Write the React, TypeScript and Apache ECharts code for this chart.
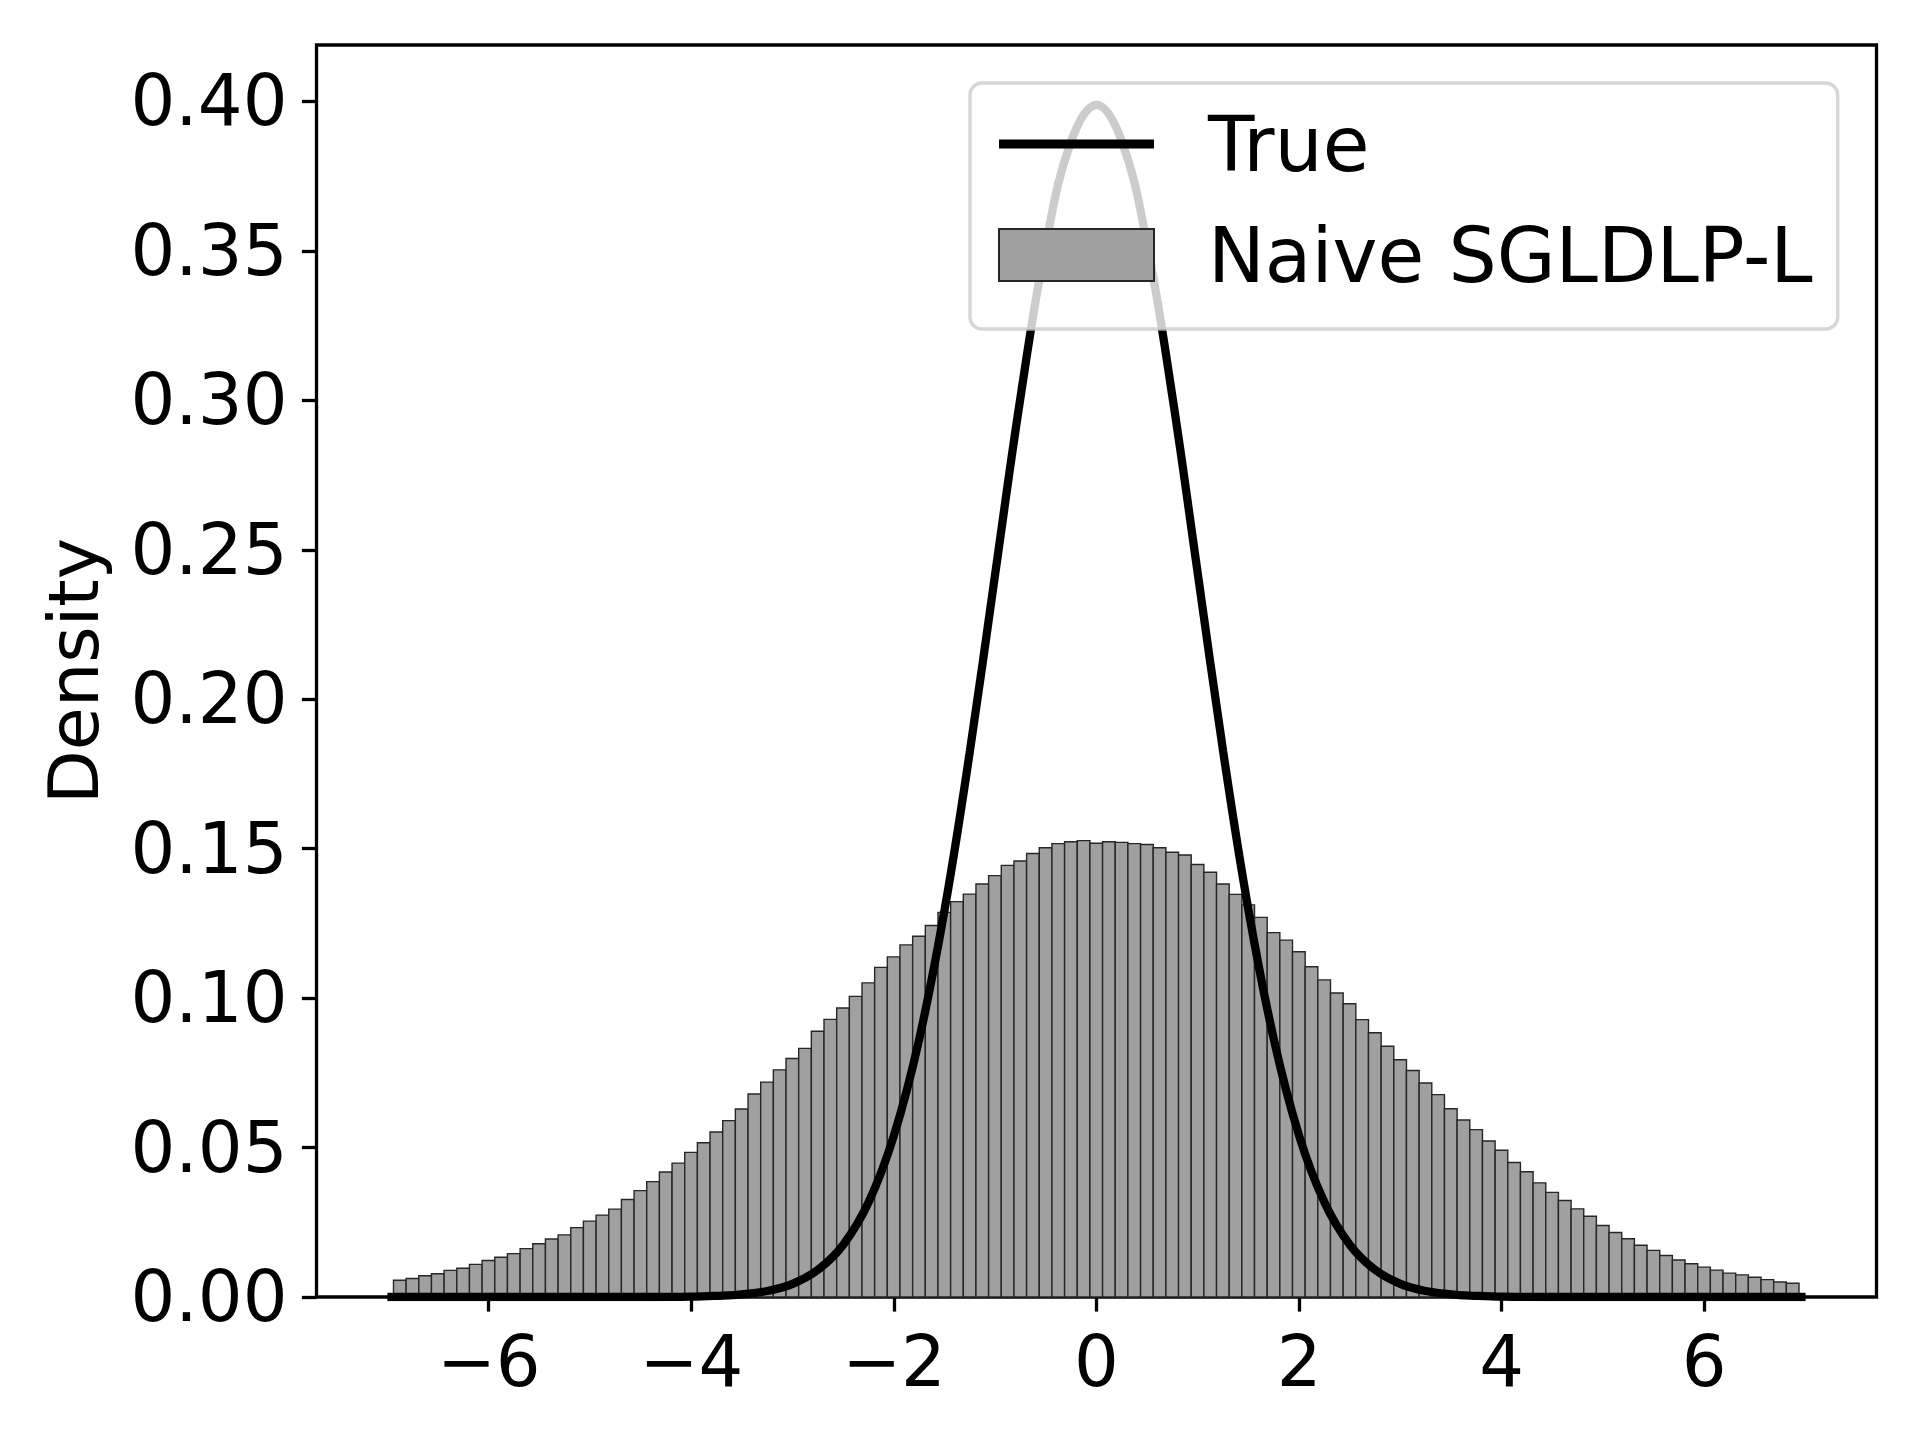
import React, { useEffect, useRef } from "react";
import * as echarts from "echarts";

// Histogram ("Naive SGLDLP-L"): 111 bins of width 0.125 starting at -6.94
const binStart = -6.94;
const binWidth = 0.125;
const histValues = [
  0.0056, 0.0062, 0.0071, 0.0078, 0.0089, 0.0096, 0.0109, 0.0122, 0.0133, 0.0145,
  0.0162, 0.0178, 0.0194, 0.0208, 0.0232, 0.0254, 0.0274, 0.0294, 0.0326, 0.0356,
  0.0386, 0.0418, 0.0448, 0.0484, 0.0516, 0.0552, 0.0590, 0.0629, 0.0679, 0.0719,
  0.0760, 0.0798, 0.0832, 0.0889, 0.0929, 0.0967, 0.1006, 0.1051, 0.1103, 0.1138,
  0.1178, 0.1207, 0.1243, 0.1287, 0.1323, 0.1348, 0.1382, 0.1410, 0.1444, 0.1459,
  0.1484, 0.1503, 0.1517, 0.1523, 0.1527, 0.1518, 0.1523, 0.1521, 0.1517, 0.1514,
  0.1503, 0.1488, 0.1479, 0.1447, 0.1421, 0.1382, 0.1347, 0.1312, 0.1270, 0.1219,
  0.1194, 0.1155, 0.1105, 0.1061, 0.1017, 0.0981, 0.0928, 0.0884, 0.0839, 0.0794,
  0.0758, 0.0716, 0.0677, 0.0630, 0.0592, 0.0560, 0.0522, 0.0491, 0.0450, 0.0419,
  0.0382, 0.0350, 0.0323, 0.0295, 0.0270, 0.0239, 0.0216, 0.0195, 0.0173, 0.0156,
  0.0139, 0.0124, 0.0111, 0.0100, 0.0090, 0.0080, 0.0074, 0.0066, 0.0058, 0.0050,
  0.0046,
];

// "True" density curve
const curveX = [
  -7, -6, -5, -4.5, -4, -3.75, -3.5, -3.25, -3, -2.75, -2.5, -2.25, -2, -1.75, -1.5,
  -1.25, -1, -0.75, -0.5, -0.25, 0, 0.25, 0.5, 0.75, 1, 1.25, 1.5, 1.75, 2, 2.25,
  2.5, 2.75, 3, 3.25, 3.5, 3.75, 4, 4.5, 5, 6, 7,
];
const curveY = [
  0.0, 0.0, 0.0, 0.0, 0.0001, 0.0004, 0.0009, 0.002, 0.0044, 0.0091, 0.0175, 0.0317,
  0.054, 0.0863, 0.1295, 0.1826, 0.242, 0.3011, 0.3521, 0.3867, 0.3989, 0.3867,
  0.3521, 0.3011, 0.242, 0.1826, 0.1295, 0.0863, 0.054, 0.0317, 0.0175, 0.0091,
  0.0044, 0.002, 0.0009, 0.0004, 0.0001, 0.0, 0.0, 0.0, 0.0,
];

const xTicks = [-6, -4, -2, 0, 2, 4, 6];
const yTicks = [0, 0.05, 0.1, 0.15, 0.2, 0.25, 0.3, 0.35, 0.4];

const seriesNames = ["True", "Naive SGLDLP-L"];
const yAxisTitle = "Density";

const FONT = "DejaVu Sans";

export default function App() {
  const ref = useRef<HTMLDivElement>(null);

  useEffect(() => {
    if (!ref.current) return;
    const chart = echarts.init(ref.current, null, { renderer: "svg" });

    const histData = histValues.map((v, i) => [
      binStart + i * binWidth,
      binStart + (i + 1) * binWidth,
      v,
    ]);
    const curveData = curveX.map((x, i) => [x, curveY[i]]);

    const fmtX = (v: number) => (v < 0 ? "\u2212" + Math.abs(v) : String(v));

    chart.setOption({
      animation: false,
      backgroundColor: "#ffffff",
      grid: {
        left: 316.5,
        right: 43.5,
        top: 45,
        bottom: 143,
        show: true,
        borderColor: "#000000",
        borderWidth: 3.3,
        backgroundColor: "transparent",
      },
      legend: {
        left: 970,
        top: 83,
        orient: "vertical",
        selectedMode: false,
        padding: [23, 25, 36, 28],
        itemGap: 35,
        itemWidth: 155,
        itemHeight: 52,
        backgroundColor: "rgba(255,255,255,0.8)",
        borderColor: "rgba(204,204,204,0.8)",
        borderWidth: 3.3,
        borderRadius: 12,
        symbolKeepAspect: true,
        textStyle: {
          fontFamily: FONT,
          fontSize: 76,
          color: "#000000",
          padding: [0, 0, 0, 49],
        },
        data: [
          {
            name: seriesNames[0],
            icon: "path://M0,0L155,0L155,9L0,9Z",
            itemStyle: { color: "#000000", borderWidth: 0 },
          },
          { name: seriesNames[1], icon: "rect" },
        ],
      },
      xAxis: {
        type: "value",
        min: -7.7,
        max: 7.7,
        axisLine: { show: false, onZero: false },
        splitLine: { show: false },
        axisTick: {
          show: true,
          inside: false,
          length: 14.6,
          customValues: xTicks,
          lineStyle: { color: "#000000", width: 3.3 },
        },
        axisLabel: {
          customValues: xTicks,
          margin: 29,
          fontFamily: FONT,
          fontSize: 70.5,
          color: "#000000",
          formatter: fmtX,
        },
      },
      yAxis: {
        type: "value",
        min: 0,
        max: 0.4189,
        name: yAxisTitle,
        nameLocation: "middle",
        nameGap: 208,
        nameRotate: 90,
        nameTextStyle: { fontFamily: FONT, fontSize: 70, color: "#000000" },
        axisLine: { show: false, onZero: false },
        splitLine: { show: false },
        axisTick: {
          show: true,
          inside: false,
          length: 14.6,
          customValues: yTicks,
          lineStyle: { color: "#000000", width: 3.3 },
        },
        axisLabel: {
          customValues: yTicks,
          margin: 29,
          fontFamily: FONT,
          fontSize: 70.5,
          color: "#000000",
          formatter: (v: number) => v.toFixed(2),
        },
      },
      series: [
        {
          name: seriesNames[1],
          type: "custom",
          z: 1,
          itemStyle: { color: "#a0a0a0", borderColor: "#262626", borderWidth: 1.4 },
          encode: { x: [0, 1], y: 2 },
          data: histData,
          renderItem: (params: any, api: any) => {
            const p0 = api.coord([api.value(0), api.value(2)]);
            const p1 = api.coord([api.value(1), 0]);
            return {
              type: "rect",
              shape: { x: p0[0], y: p0[1], width: p1[0] - p0[0], height: p1[1] - p0[1] },
              style: { fill: "#a0a0a0", stroke: "#262626", lineWidth: 1.4 },
            };
          },
        },
        {
          name: seriesNames[0],
          type: "line",
          z: 3,
          data: curveData,
          smooth: 0.4,
          showSymbol: false,
          symbol: "none",
          color: "#000000",
          lineStyle: { color: "#000000", width: 8.3 },
        },
      ],
    });

    return () => chart.dispose();
  }, []);

  return (
    <div
      ref={ref}
      style={{ position: "absolute", left: 0, top: 0, width: 1920, height: 1440 }}
    />
  );
}
